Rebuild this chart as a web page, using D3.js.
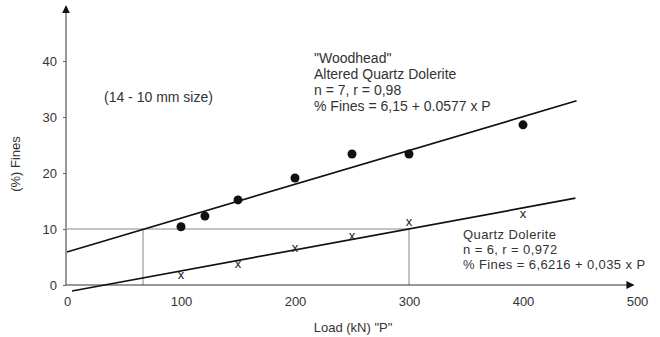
<!DOCTYPE html>
<html lang="en">
    <head>
        <meta charset="utf-8">
        <title>Fines vs Load</title>
        <script type="text/javascript" src="https://cdn.jsdelivr.net/npm/d3@7/dist/d3.min.js"></script>
        <style>
            body { margin: 0; background: #fff; }
            text { font-family: "Liberation Sans", Arial, sans-serif; fill: #333; }
        </style>
    </head>
    <body>
        <script type="text/javascript">

            // data
            var woodLoad = [100, 121, 150, 200, 250, 300, 400];
            var woodFines = [10.4, 12.3, 15.2, 19.1, 23.4, 23.4, 28.6];
            var quartzLoad = [100, 150, 200, 250, 300, 400];
            var quartzFines = [1.8, 3.75, 6.6, 8.75, 11.25, 12.6];

            // fitted lines as drawn (end points)
            var woodLine = [[0, 5.9], [447, 32.9]];
            var quartzLine = [[4.4, -1.07], [446, 15.5]];

            // guide lines at 10 % fines
            var guideH = [[0, 10], [300, 10]];
            var guideV = [[66.7, 10], [300, 10]];

            var xTicks = [0, 100, 200, 300, 400, 500];
            var yTicks = [0, 10, 20, 30, 40];

            var woodText = ["\"Woodhead\"", "Altered Quartz Dolerite", "n = 7, r = 0,98", "% Fines = 6,15 + 0.0577 x P"];
            var quartzText = ["Quartz Dolerite", "n = 6, r = 0,972", "% Fines = 6,6216 + 0,035 x P"];
            var sizeText = "(14 - 10 mm size)";

            var w = 660;
            var h = 337;

            var x = d3.scaleLinear().domain([0, 500]).range([67, 637]);
            var y = d3.scaleLinear().domain([0, 50]).range([285, 5]);

            var svg = d3.select("body")
                .append("svg")
                .attr("width", w)
                .attr("height", h);

            svg.append("defs").append("marker")
                .attr("id", "arrow")
                .attr("viewBox", "0 0 10 10")
                .attr("refX", 9)
                .attr("refY", 5)
                .attr("markerWidth", 8)
                .attr("markerHeight", 8)
                .attr("markerUnits", "userSpaceOnUse")
                .attr("orient", "auto")
                .append("path")
                .attr("d", "M0,0 L10,5 L0,10 z")
                .attr("fill", "#111");

            // guide lines
            var line = d3.line().x(function(d) { return x(d[0]); }).y(function(d) { return y(d[1]); });

            svg.append("path")
                .attr("d", line(guideH))
                .attr("stroke", "#888")
                .attr("stroke-width", 1)
                .attr("fill", "none");

            guideV.forEach(function(p) {
                svg.append("path")
                    .attr("d", line([[p[0], 0], p]))
                    .attr("stroke", "#888")
                    .attr("stroke-width", 1)
                    .attr("fill", "none");
            });

            // axes
            svg.append("line")
                .attr("x1", x(0) - 1).attr("y1", y(0))
                .attr("x2", x(497)).attr("y2", y(0))
                .attr("stroke", "#333")
                .attr("stroke-width", 1)
                .attr("marker-end", "url(#arrow)");

            svg.append("line")
                .attr("x1", x(0) - 1).attr("y1", y(0))
                .attr("x2", x(0) - 1).attr("y2", y(49.8))
                .attr("stroke", "#333")
                .attr("stroke-width", 1)
                .attr("marker-end", "url(#arrow)");

            var yAxis = d3.axisLeft(y).tickValues(yTicks).tickSize(3).tickPadding(6);
            var gy = svg.append("g")
                .attr("transform", "translate(" + (x(0) - 1) + ",0)")
                .call(yAxis);
            gy.select(".domain").remove();

            var xAxis = d3.axisBottom(x).tickValues(xTicks).tickSize(0).tickPadding(12);
            var gx = svg.append("g")
                .attr("transform", "translate(0," + y(0) + ")")
                .call(xAxis);
            gx.select(".domain").remove();

            svg.selectAll(".tick line").attr("stroke", "#666");
            svg.selectAll(".tick text")
                .attr("font-size", 13)
                .attr("font-family", "Liberation Sans, Arial, sans-serif")
                .attr("fill", "#333");

            // axis titles
            svg.append("text")
                .text("Load (kN) \"P\"")
                .attr("x", 353)
                .attr("y", 332)
                .attr("text-anchor", "middle")
                .attr("font-size", 13);

            svg.append("text")
                .text("(%) Fines")
                .attr("transform", "translate(20,164) rotate(-90)")
                .attr("text-anchor", "middle")
                .attr("font-size", 13);

            // fitted lines
            svg.append("path")
                .attr("d", line(woodLine))
                .attr("stroke", "#111")
                .attr("stroke-width", 1.7)
                .attr("fill", "none");

            svg.append("path")
                .attr("d", line(quartzLine))
                .attr("stroke", "#111")
                .attr("stroke-width", 1.7)
                .attr("fill", "none");

            // points
            svg.selectAll("circle")
                .data(woodLoad)
                .enter()
                .append("circle")
                .attr("cx", function(d) { return x(d); })
                .attr("cy", function(d, i) { return y(woodFines[i]); })
                .attr("r", 4.5)
                .attr("fill", "#111");

            svg.selectAll(".xmark")
                .data(quartzLoad)
                .enter()
                .append("text")
                .attr("class", "xmark")
                .text("x")
                .attr("x", function(d) { return x(d); })
                .attr("y", function(d, i) { return y(quartzFines[i]) + 4; })
                .attr("text-anchor", "middle")
                .attr("font-size", 13)
                .style("fill", "#222");

            // annotations
            svg.append("text")
                .text(sizeText)
                .attr("x", 104)
                .attr("y", 102)
                .attr("font-size", 14);

            svg.selectAll(".wood")
                .data(woodText)
                .enter()
                .append("text")
                .attr("class", "wood")
                .text(function(d) { return d; })
                .attr("x", 314)
                .attr("y", function(d, i) { return 63 + i * 16; })
                .attr("font-size", 14);

            svg.selectAll(".quartz")
                .data(quartzText)
                .enter()
                .append("text")
                .attr("class", "quartz")
                .text(function(d) { return d; })
                .attr("x", 463)
                .attr("y", function(d, i) { return 239 + i * 15; })
                .attr("font-size", 13)
                .attr("letter-spacing", 0.4);

        </script>
    </body>
</html>
